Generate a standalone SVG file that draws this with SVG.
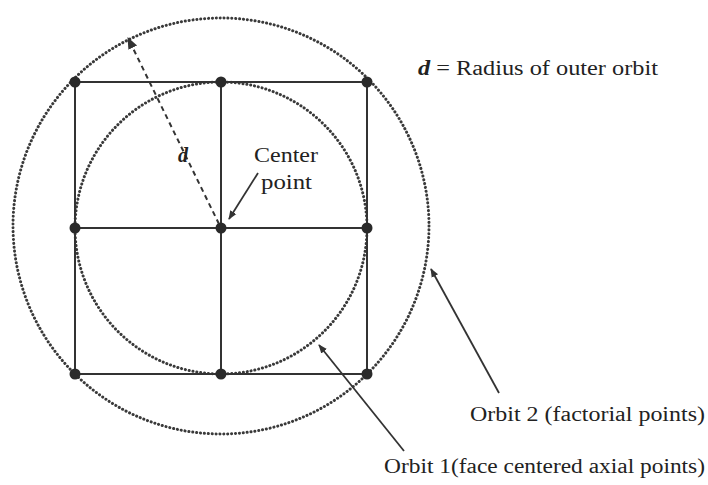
<svg xmlns="http://www.w3.org/2000/svg" width="708" height="485" viewBox="0 0 708 485">
<defs>
<style>
.orbit{fill:none;stroke:#3a3a3a;stroke-width:3;stroke-dasharray:0.1 3.8;stroke-linecap:round}
.grid{stroke:#333;stroke-width:2;fill:none}
.pt{fill:#2a2a2a}
.lead{stroke:#333;stroke-width:1.8;fill:none}
.txt{font-family:"Liberation Serif","Times New Roman",serif;font-size:20px;fill:#222}
</style>
<marker id="ah" viewBox="0 0 10 10" refX="9" refY="5" markerWidth="9" markerHeight="9" orient="auto" markerUnits="userSpaceOnUse">
<path d="M0,1 L10,5 L0,9 z" fill="#333"/>
</marker>
<marker id="ahd" viewBox="0 0 10 10" refX="9" refY="5" markerWidth="12" markerHeight="12" orient="auto" markerUnits="userSpaceOnUse">
<path d="M0,1 L10,5 L0,9 z" fill="#333"/>
</marker>
</defs>
<rect width="708" height="485" fill="#fff"/>
<g id="orbit2"><circle class="orbit" cx="221" cy="226" r="208"/></g>
<g id="orbit1"><circle class="orbit" cx="221" cy="228" r="146"/></g>
<g id="grid">
<rect class="grid" x="75" y="82" width="292" height="292"/>
<line class="grid" x1="75" y1="228" x2="367" y2="228"/>
<line class="grid" x1="221" y1="82" x2="221" y2="374"/>
</g>
<g id="points">
<circle class="pt" cx="75" cy="82" r="5.5"/>
<circle class="pt" cx="221" cy="82" r="5.5"/>
<circle class="pt" cx="367" cy="82" r="5.5"/>
<circle class="pt" cx="75" cy="228" r="5.5"/>
<circle class="pt" cx="221" cy="228" r="5.5"/>
<circle class="pt" cx="367" cy="228" r="5.5"/>
<circle class="pt" cx="75" cy="374" r="5.5"/>
<circle class="pt" cx="221" cy="374" r="5.5"/>
<circle class="pt" cx="367" cy="374" r="5.5"/>
</g>
<g id="connectors">
<line x1="219" y1="224" x2="128" y2="38" stroke="#333" stroke-width="2" stroke-dasharray="5 4" marker-end="url(#ahd)"/>
<line class="lead" x1="258" y1="173" x2="229" y2="219" marker-end="url(#ah)"/>
<line class="lead" x1="404" y1="451" x2="319" y2="345" marker-end="url(#ah)"/>
<line class="lead" x1="499" y1="393" x2="431" y2="269" marker-end="url(#ah)"/>
</g>
<g id="labels">
<text class="txt" x="178" y="162" font-style="italic" font-weight="bold">d</text>
<text class="txt" x="254" y="162" textLength="64" lengthAdjust="spacingAndGlyphs">Center</text>
<text class="txt" x="261" y="189" textLength="51" lengthAdjust="spacingAndGlyphs">point</text>
<text class="txt" x="418" y="75" textLength="240" lengthAdjust="spacingAndGlyphs"><tspan font-style="italic" font-weight="bold">d</tspan> = Radius of outer orbit</text>
<text class="txt" x="470" y="421" textLength="235" lengthAdjust="spacingAndGlyphs">Orbit 2 (factorial points)</text>
<text class="txt" x="384" y="473" textLength="321" lengthAdjust="spacingAndGlyphs">Orbit 1(face centered axial points)</text>
</g>
</svg>
